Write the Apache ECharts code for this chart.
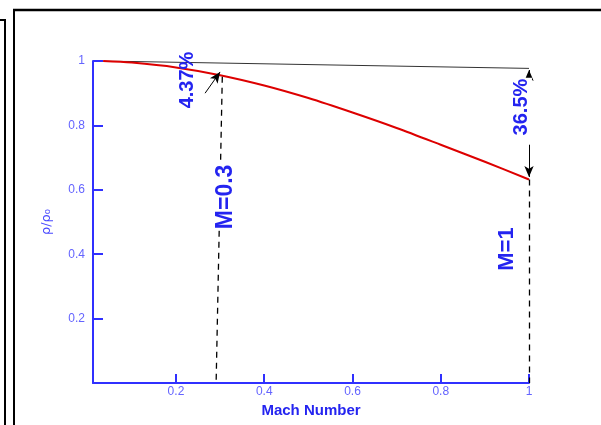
<!DOCTYPE html>
<html>
<head>
<meta charset="utf-8">
<script src="https://cdn.jsdelivr.net/npm/echarts@6/dist/echarts.min.js"></script>
<style>
  html, body { margin: 0; padding: 0; background: #fff; }
  #chart { width: 601px; height: 425px; }
</style>
</head>
<body>
<div id="chart"></div>
<script>
// density ratio curve
const machValues = [0.035, 0.1, 0.2, 0.3, 0.4, 0.5, 0.6, 0.7, 0.8, 0.9, 1.0]
const densityValues = [1.0, 0.995, 0.98, 0.956, 0.924, 0.885, 0.84, 0.792, 0.74, 0.687, 0.632]
// thin reference line at the top
const refMach = [0.035, 1.0]
const refDensity = [1.0, 0.977]
const yTicks = [0.2, 0.4, 0.6, 0.8, 1]
const xTicks = [0.2, 0.4, 0.6, 0.8, 1]

const blue = '#3030ff'
const labelBlue = '#2424f0'
const font = 'Liberation Sans, Arial, sans-serif'

const chart = echarts.init(document.getElementById('chart'))

const zip = (a, b) => a.map((v, i) => [v, b[i]])

// rotated blue annotation at data coord
function note(text, coord, size, bg) {
  return {
    coord: coord,
    symbol: 'circle',
    symbolSize: 0,
    label: {
      show: true,
      position: 'inside',
      formatter: text,
      rotate: 90,
      color: labelBlue,
      fontSize: size,
      fontWeight: 'bold',
      fontFamily: font,
      backgroundColor: bg ? '#fff' : 'transparent',
      padding: [0, 1]
    }
  }
}

const option = {
  backgroundColor: '#fff',
  animation: false,
  grid: { left: 93, top: 61, right: 72, bottom: 42 },
  xAxis: {
    type: 'value',
    min: 0.012,
    max: 1,
    name: 'Mach Number',
    nameLocation: 'middle',
    nameGap: 14,
    nameTextStyle: { color: labelBlue, fontSize: 15, fontWeight: 'bold', fontFamily: font },
    axisLine: { show: true, lineStyle: { color: blue, width: 2 } },
    axisTick: { show: true, inside: true, length: 9, lineStyle: { color: blue, width: 2 } },
    axisLabel: {
      margin: 3,
      color: '#6464ff',
      fontSize: 12,
      fontFamily: font,
      formatter: v => (xTicks.some(t => Math.abs(t - v) < 1e-6) ? String(+v.toFixed(1)) : '')
    },
    splitLine: { show: false }
  },
  yAxis: {
    type: 'value',
    min: 0,
    max: 1,
    interval: 0.2,
    name: 'ρ/ρ₀',
    nameLocation: 'middle',
    nameGap: 40,
    nameTextStyle: { color: '#4a4aff', fontSize: 13, fontFamily: 'DejaVu Sans, sans-serif' },
    axisLine: { show: true, lineStyle: { color: blue, width: 2 } },
    axisTick: { show: true, inside: true, length: 10, lineStyle: { color: blue, width: 2 } },
    axisLabel: {
      margin: 8,
      color: '#6464ff',
      fontSize: 12,
      fontFamily: font,
      showMinLabel: false,
      formatter: v => (yTicks.some(t => Math.abs(t - v) < 1e-6) ? String(+v.toFixed(1)) : '')
    },
    splitLine: { show: false }
  },
  series: [
    {
      name: 'reference',
      type: 'line',
      data: zip(refMach, refDensity),
      symbol: 'none',
      lineStyle: { color: '#333', width: 1 },
      z: 2
    },
    {
      name: 'density',
      type: 'line',
      data: zip(machValues, densityValues),
      symbol: 'none',
      smooth: 0.3,
      lineStyle: { color: '#dd0000', width: 2 },
      z: 3,
      markLine: {
        silent: true,
        symbol: 'none',
        lineStyle: { color: '#000', type: [6, 5], width: 1.3 },
        label: { show: false },
        data: [
          [{ coord: [0.305, 0.951] }, { coord: [0.291, 0] }],
          [{ coord: [1.0, 0.632] }, { coord: [1.0, 0] }],
          // arrows
          [{ coord: [0.266, 0.9], symbol: 'none', lineStyle: { type: 'solid', width: 1 } },
           { coord: [0.3, 0.966], symbol: 'arrow', symbolSize: [7, 11], lineStyle: { type: 'solid', width: 1 } }],
          [{ coord: [1.0, 0.9], symbol: 'none', lineStyle: { type: 'solid', width: 1 } },
           { coord: [1.0, 0.972], symbol: 'arrow', symbolSize: [7, 11], lineStyle: { type: 'solid', width: 1 } }],
          [{ coord: [1.0, 0.74], symbol: 'none', lineStyle: { type: 'solid', width: 1 } },
           { coord: [1.0, 0.64], symbol: 'arrow', symbolSize: [7, 11], lineStyle: { type: 'solid', width: 1 } }]
        ]
      },
      markPoint: {
        silent: true,
        data: [
          note('4.37%', [0.226, 0.941], 20, false),
          note('M=0.3', [0.312, 0.578], 23, true),
          note('M=1', [0.95, 0.416], 22, false),
          note('36.5%', [0.984, 0.857], 20, true)
        ]
      }
    }
  ],
  // window frame lines
  graphic: [
    { type: 'line', shape: { x1: 5, y1: 20, x2: 5, y2: 425 }, style: { stroke: '#000', lineWidth: 2 } },
    { type: 'line', shape: { x1: 0, y1: 20, x2: 6, y2: 20 }, style: { stroke: '#000', lineWidth: 2 } },
    { type: 'line', shape: { x1: 14, y1: 9, x2: 14, y2: 425 }, style: { stroke: '#000', lineWidth: 2 } },
    { type: 'line', shape: { x1: 13, y1: 10, x2: 601, y2: 10 }, style: { stroke: '#000', lineWidth: 2.5 } }
  ]
}

chart.setOption(option)
</script>
</body>
</html>
